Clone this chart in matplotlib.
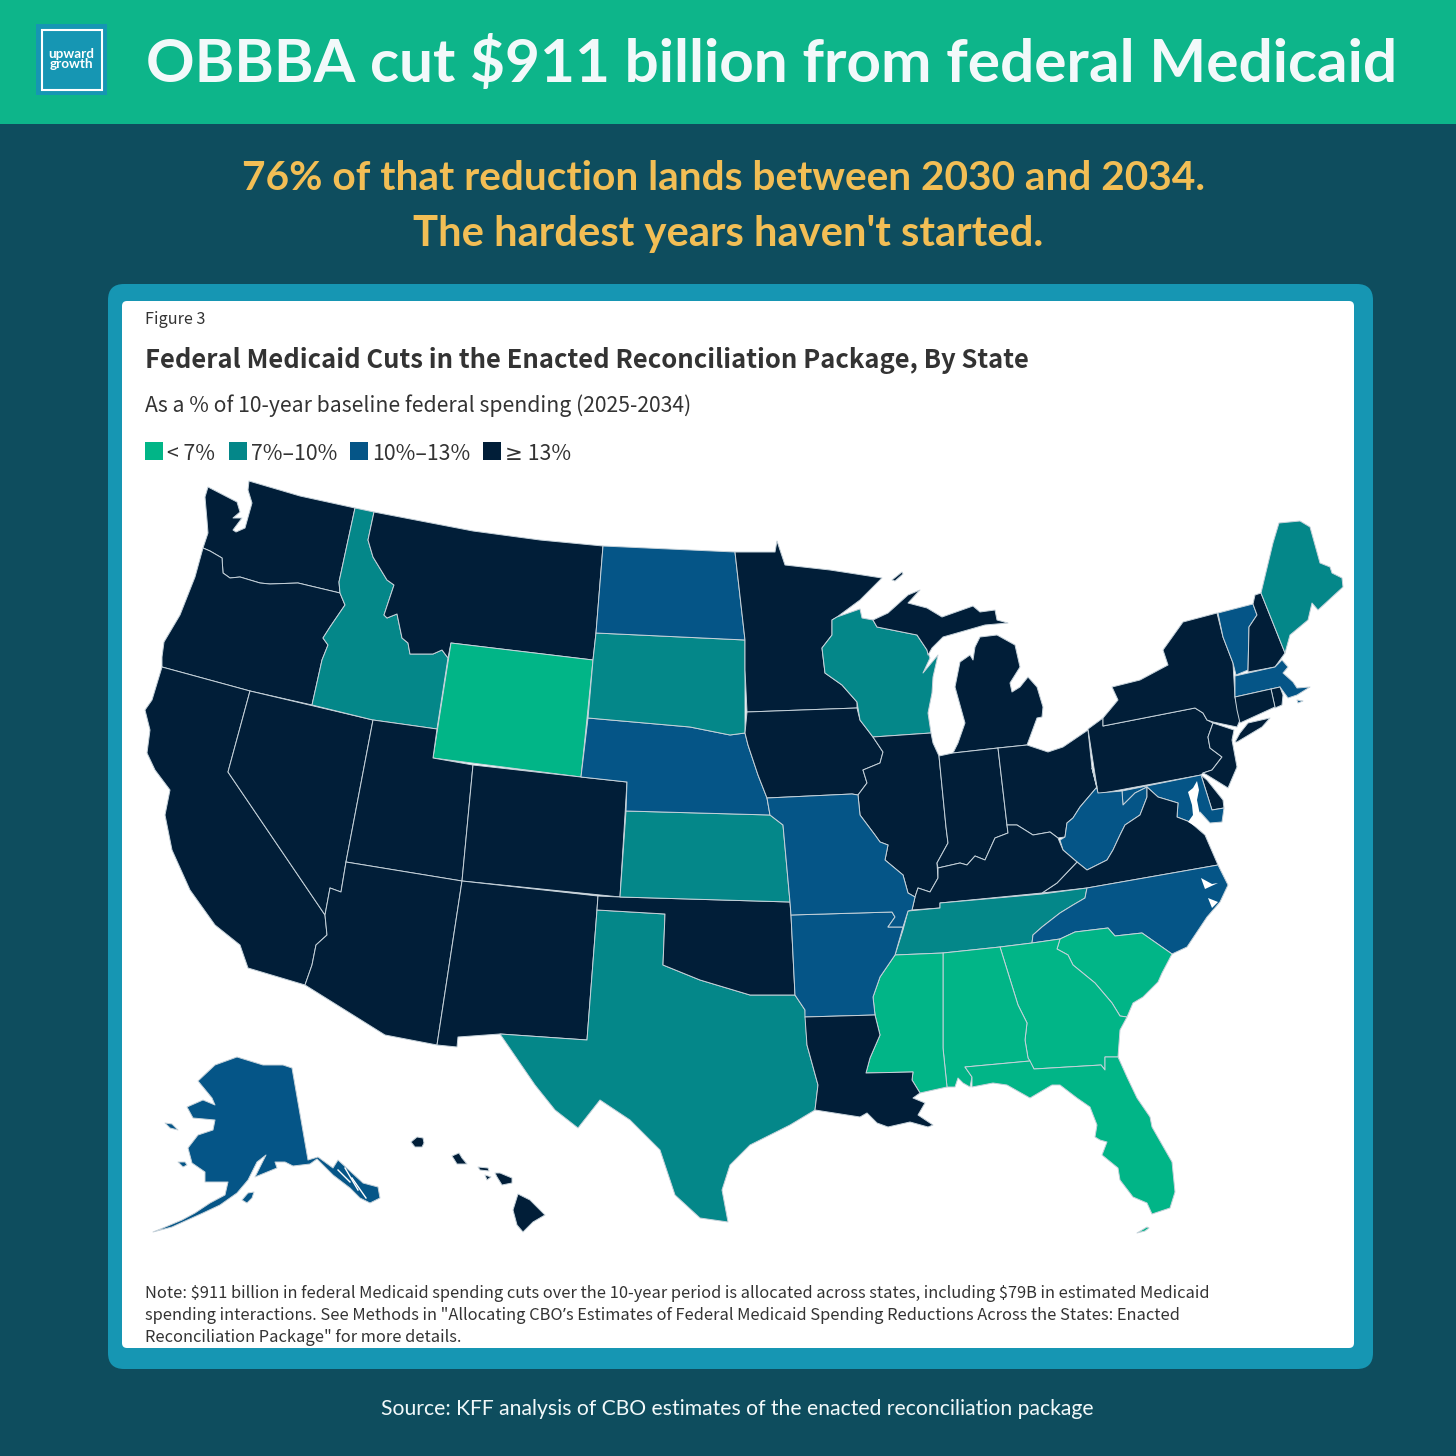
import matplotlib
matplotlib.use("Agg")
import matplotlib.pyplot as plt
from matplotlib.patches import FancyBboxPatch, Polygon, Rectangle

# Legend
BIN_LABELS = ["< 7%", "7%–10%", "10%–13%", "≥ 13%"]
BIN_COLORS = ["#01B587", "#048789", "#055587", "#011E38"]

# State bin, index into BIN_LABELS
LOW = ["WY", "MS", "AL", "GA", "SC", "FL"]
MID = ["ID", "SD", "KS", "TX", "WI", "TN", "ME"]
HIGH = ["ND", "NE", "MO", "AR", "WV", "MD", "NC", "VT", "MA", "AK"]
TOP = ["WA", "OR", "CA", "NV", "MT", "UT", "CO", "AZ", "NM", "OK", "MN", "IA", "IL", "IN", "MI",
       "OH", "KY", "VA", "PA", "NY", "NJ", "DE", "CT", "RI", "NH", "LA", "HI"]

# State outlines
WA = [(249,481),(300,496),(355,508),(339,582),(340,593),(298,583),(270,584),(260,583),(240,577),(230,578),(223,573),(222,558),(210,551),(203,548),(208,533),(207,520),(205,497),(208,487),(237,502),(240,512),(233,518),(242,518),(233,530),(236,532),(245,528),(252,503),(248,490)]
OR = [(203,548),(210,551),(222,558),(223,573),(230,578),(240,577),(260,583),(270,584),(298,583),(340,593),(345,605),(330,627),(323,638),(328,645),(322,660),(312,705),(250,691),(162,667),(162,657),(164,642),(180,615),(195,577)]
CA = [(162,667),(250,691),(228,772),(325,915),(327,935),(316,945),(312,965),(305,985),(248,968),(240,945),(215,925),(190,890),(172,850),(165,815),(170,790),(155,770),(147,753),(150,730),(145,710),(152,700)]
NV = [(250,691),(373,720),(346,862),(341,892),(330,888),(325,915),(228,772)]
ID = [(355,508),(374,512),(368,540),(373,557),(387,580),(394,585),(388,603),(384,615),(387,618),(397,614),(402,638),(408,643),(410,654),(433,654),(442,650),(448,658),(437,729),(373,720),(312,705),(322,660),(328,645),(323,638),(330,627),(345,605),(340,593),(339,582)]
MT = [(374,512),(473,531),(540,540),(603,546),(596,633),(593,660),(451,643),(448,658),(442,650),(433,654),(410,654),(408,643),(402,638),(397,614),(387,618),(384,615),(388,603),(394,585),(387,580),(373,557),(368,540)]
WY = [(451,643),(593,660),(581,777),(433,758)]
UT = [(373,720),(437,729),(433,758),(473,765),(462,881),(346,862)]
CO = [(473,765),(581,777),(627,782),(620,897),(462,881)]
AZ = [(346,862),(462,881),(437,1045),(385,1035),(305,985),(312,965),(316,945),(327,935),(325,915),(330,888),(341,892)]
NM = [(462,881),(598,896),(597,910),(587,1040),(500,1034),(458,1037),(457,1047),(437,1045)]
TX = [(597,910),(665,914),(663,965),(700,980),(750,995),(795,995),(805,1010),(807,1045),(818,1085),(815,1110),(790,1125),(750,1145),(730,1165),(722,1190),(728,1222),(700,1218),(675,1195),(660,1150),(630,1120),(600,1100),(578,1128),(555,1110),(535,1085),(500,1034),(587,1040)]
OK = [(598,896),(620,897),(790,902),(791,915),(795,995),(750,995),(700,980),(663,965),(665,914),(597,910)]
KS = [(626,811),(770,815),(783,825),(790,902),(620,897)]
NE = [(588,718),(690,727),(730,735),(745,733),(748,745),(758,775),(767,798),(770,815),(626,811),(627,782),(581,777)]
SD = [(596,633),(745,640),(745,670),(745,733),(730,735),(690,727),(588,718),(593,660)]
ND = [(603,546),(735,552),(745,640),(596,633)]
MN = [(735,552),(775,552),(777,541),(785,565),(830,570),(882,578),(860,600),(837,617),(832,620),(832,635),(822,648),(825,673),(842,685),(857,702),(857,708),(747,712),(745,670),(745,640)]
IA = [(747,712),(857,708),(860,720),(873,737),(883,752),(880,763),(863,770),(867,783),(858,795),(852,794),(767,798),(758,775),(748,745),(745,733)]
WI = [(837,617),(860,609),(862,618),(873,620),(877,627),(917,635),(927,650),(930,658),(923,673),(938,655),(933,677),(932,693),(928,713),(931,733),(873,737),(860,720),(857,702),(842,685),(825,673),(822,648),(832,635),(832,620)]
MI_UP = [(873,620),(888,613),(908,595),(920,590),(908,603),(927,608),(942,617),(973,606),(980,612),(995,610),(997,620),(1008,623),(985,625),(943,637),(932,648),(928,655),(927,650),(917,635),(877,627)]
MI_LP = [(980,637),(997,635),(1015,645),(1020,667),(1010,683),(1012,692),(1020,687),(1028,677),(1037,687),(1043,707),(1042,717),(1037,718),(1030,737),(1027,745),(998,748),(953,753),(958,743),(965,723),(955,687),(960,662),(970,655),(973,660),(975,647)]
MI_ISLE = [(892,580),(902,572),(903,574),(895,581)]
IL = [(873,737),(931,733),(933,743),(939,756),(946,827),(948,843),(937,863),(938,878),(930,892),(918,888),(915,897),(908,893),(903,875),(885,860),(888,845),(880,842),(875,835),(860,815),(858,795),(867,783),(863,770),(880,763),(883,752)]
IN = [(939,756),(953,753),(998,748),(1007,825),(1008,833),(995,838),(985,860),(975,856),(967,865),(960,863),(938,868),(937,863),(948,843),(946,827)]
OH = [(998,748),(1027,745),(1048,752),(1063,747),(1088,730),(1092,768),(1097,787),(1080,807),(1073,818),(1067,823),(1065,837),(1058,838),(1050,832),(1033,835),(1017,825),(1007,825)]
PA = [(1088,729),(1103,718),(1103,726),(1195,708),(1203,713),(1207,720),(1213,723),(1208,737),(1210,748),(1222,757),(1212,770),(1203,773),(1201,775),(1098,794)]
NY = [(1103,718),(1118,700),(1112,687),(1140,680),(1168,665),(1163,650),(1183,622),(1217,613),(1223,637),(1233,663),(1235,697),(1240,720),(1237,727),(1213,722),(1207,720),(1203,713),(1195,708),(1103,726)]
NY_LI = [(1235,742),(1240,733),(1248,723),(1270,718),(1262,727),(1237,742)]
VT = [(1218,613),(1253,604),(1257,615),(1249,627),(1248,670),(1236,675),(1233,663),(1223,637)]
NH = [(1255,595),(1261,593),(1285,653),(1275,667),(1248,672),(1249,627),(1257,615),(1253,604)]
ME = [(1261,593),(1273,543),(1279,523),(1300,521),(1310,527),(1320,563),(1330,567),(1332,573),(1342,578),(1343,587),(1318,610),(1312,603),(1308,620),(1290,635),(1285,653)]
MA = [(1235,676),(1275,667),(1282,660),(1288,667),(1283,673),(1293,682),(1297,688),(1310,687),(1297,695),(1288,698),(1280,687),(1235,697)]
MA_ISLE = [(1297,700),(1303,701),(1298,703)]
RI = [(1271,689),(1280,687),(1283,695),(1282,705),(1275,708)]
CT = [(1235,697),(1271,689),(1275,707),(1240,723),(1237,710)]
NJ = [(1213,723),(1234,730),(1232,740),(1237,767),(1228,788),(1220,783),(1207,775),(1203,773),(1212,770),(1222,757),(1210,748),(1208,737)]
DE = [(1201,775),(1207,780),(1223,800),(1224,808),(1212,810)]
MD = [(1122,791),(1201,775),(1212,810),(1224,808),(1222,822),(1210,823),(1200,812),(1190,822),(1177,817),(1178,803),(1158,797),(1147,787),(1135,793),(1123,805)]
WV = [(1092,768),(1098,793),(1122,791),(1123,805),(1135,793),(1147,787),(1147,797),(1140,815),(1125,825),(1120,835),(1113,850),(1107,860),(1087,870),(1077,862),(1063,850),(1060,840),(1065,837),(1067,823),(1073,818),(1080,807),(1097,787)]
VA = [(1042,893),(1057,883),(1077,862),(1087,870),(1107,860),(1113,850),(1120,835),(1125,825),(1140,815),(1147,797),(1147,787),(1158,797),(1178,803),(1177,817),(1190,822),(1205,835),(1218,865),(1087,888)]
KY = [(1042,893),(940,903),(940,908),(912,910),(915,897),(918,888),(930,892),(938,878),(938,868),(960,863),(967,865),(975,856),(985,860),(995,838),(1008,833),(1007,825),(1017,825),(1033,835),(1050,832),(1058,838),(1063,850),(1077,862),(1057,883)]
TN = [(908,911),(940,908),(940,903),(1042,894),(1087,888),(1085,898),(1073,905),(1060,913),(1042,927),(1033,935),(1032,943),(1000,947),(943,953),(895,955),(903,930)]
NC = [(1087,888),(1218,865),(1228,885),(1220,902),(1207,917),(1187,947),(1172,954),(1142,933),(1115,936),(1108,928),(1075,932),(1060,939),(1032,943),(1033,935),(1042,927),(1060,913),(1073,905),(1085,898)]
SC = [(1075,932),(1108,928),(1115,936),(1142,933),(1172,954),(1162,973),(1158,982),(1143,997),(1133,1003),(1127,1017),(1120,1016),(1112,1003),(1095,983),(1073,965),(1068,955),(1057,949),(1060,939)]
GA = [(1000,947),(1032,943),(1060,939),(1057,949),(1068,955),(1073,965),(1095,983),(1112,1003),(1120,1016),(1127,1017),(1120,1030),(1118,1057),(1105,1057),(1105,1070),(1101,1065),(1034,1069),(1028,1058),(1025,1040),(1027,1023),(1018,1005)]
AL = [(943,953),(1000,947),(1018,1005),(1027,1023),(1025,1040),(1028,1058),(1030,1061),(965,1067),(972,1077),(970,1087),(963,1083),(958,1078),(955,1087),(947,1087),(943,1048)]
MS = [(895,955),(943,953),(943,1048),(947,1087),(920,1093),(912,1080),(913,1072),(866,1073),(870,1058),(880,1035),(875,1015),(873,997),(880,977)]
AR = [(791,915),(892,912),(895,917),(888,927),(903,927),(895,955),(880,977),(873,997),(875,1015),(805,1017),(805,1010),(795,995)]
MO = [(767,798),(852,794),(858,795),(860,815),(875,835),(880,842),(888,845),(885,860),(903,875),(908,893),(915,897),(912,910),(908,911),(903,927),(888,927),(895,917),(892,912),(791,915),(790,902),(783,825),(770,815)]
LA = [(805,1017),(875,1015),(880,1035),(870,1058),(866,1073),(913,1072),(912,1080),(920,1093),(913,1098),(925,1103),(918,1115),(933,1125),(928,1127),(910,1122),(888,1127),(877,1123),(867,1113),(860,1117),(815,1110),(818,1085),(807,1045)]
FL = [(965,1067),(1030,1061),(1034,1069),(1101,1065),(1105,1070),(1105,1057),(1118,1057),(1127,1077),(1137,1098),(1150,1117),(1152,1127),(1172,1162),(1175,1192),(1170,1208),(1152,1214),(1147,1203),(1133,1197),(1120,1180),(1118,1168),(1102,1155),(1107,1142),(1100,1140),(1095,1137),(1097,1125),(1090,1107),(1077,1098),(1060,1085),(1052,1085),(1030,1098),(1007,1085),(993,1083),(972,1087),(972,1077)]
FL_KEYS = [(1137,1233),(1147,1227),(1149,1228),(1145,1231)]
AK = [(292,1068),(283,1065),(263,1065),(237,1057),(215,1065),(198,1081),(212,1098),(215,1105),(203,1100),(187,1107),(193,1118),(215,1120),(213,1130),(198,1135),(188,1148),(192,1163),(205,1172),(205,1182),(228,1182),(225,1195),(210,1203),(195,1213),(182,1220),(163,1228),(153,1232),(172,1227),(183,1222),(203,1213),(220,1205),(237,1193),(248,1180),(257,1162),(266,1155),(255,1177),(277,1168),(275,1162),(285,1162),(293,1166),(310,1164),(317,1159),(333,1175),(350,1188),(360,1198),(370,1203),(380,1198),(378,1187),(363,1183),(338,1160),(333,1168),(318,1157),(308,1160)]
AK_KODIAK = [(242,1200),(248,1193),(254,1192),(252,1198),(247,1203)]
AK_LAWRENCE = [(165,1123),(172,1124),(178,1130),(170,1128)]
AK_NUNIVAK = [(178,1162),(185,1162),(187,1165),(183,1167)]
HI_KAUAI = [(411,1142),(417,1137),(423,1138),(424,1143),(422,1147),(415,1147)]
HI_OAHU = [(452,1156),(459,1153),(462,1158),(467,1164),(457,1164)]
HI_MOLOKAI = [(478,1167),(488,1168),(489,1171),(480,1170)]
HI_LANAI = [(485,1175),(491,1177),(487,1180)]
HI_MAUI = [(495,1173),(500,1173),(512,1178),(512,1183),(502,1185),(497,1177)]
HI_BIG = [(518,1194),(530,1200),(545,1215),(533,1222),(523,1232),(517,1225),(513,1210)]

STATE_PARTS = {
    "WA": [WA], "OR": [OR], "CA": [CA], "NV": [NV], "ID": [ID], "MT": [MT], "WY": [WY], "UT": [UT],
    "CO": [CO], "AZ": [AZ], "NM": [NM], "TX": [TX], "OK": [OK], "KS": [KS], "NE": [NE], "SD": [SD],
    "ND": [ND], "MN": [MN], "IA": [IA], "WI": [WI], "MI": [MI_UP, MI_LP, MI_ISLE], "IL": [IL],
    "IN": [IN], "OH": [OH], "PA": [PA], "NY": [NY, NY_LI], "VT": [VT], "NH": [NH], "ME": [ME],
    "MA": [MA, MA_ISLE], "RI": [RI], "CT": [CT], "NJ": [NJ], "DE": [DE], "MD": [MD], "WV": [WV],
    "VA": [VA], "KY": [KY], "TN": [TN], "NC": [NC], "SC": [SC], "GA": [GA], "AL": [AL], "MS": [MS],
    "AR": [AR], "MO": [MO], "LA": [LA], "FL": [FL, FL_KEYS],
    "AK": [AK, AK_KODIAK, AK_LAWRENCE, AK_NUNIVAK],
    "HI": [HI_KAUAI, HI_OAHU, HI_MOLOKAI, HI_LANAI, HI_MAUI, HI_BIG],
}

# Bays and sounds that cut into the land
WATER = [
    [(1197,781),(1193,788),(1188,792),(1192,805),(1193,815),(1188,822),(1205,832),(1218,832),(1205,825),(1200,815),(1197,800),(1199,790)],
    [(1201,878),(1212,884),(1218,883),(1205,889)],
    [(1208,898),(1218,902),(1212,908)],
    [(238,489),(246,488),(247,492),(240,493)],
]
AK_CHANNELS = [
    [(338,1170),(350,1182)],
    [(345,1168),(358,1190)],
    [(352,1178),(366,1198)],
]

HEADER_TITLE = "OBBBA cut $911 billion from federal Medicaid"
SUBTITLE = ["76% of that reduction lands between 2030 and 2034.", "The hardest years haven't started."]
FIGURE_NO = "Figure 3"
CHART_TITLE = "Federal Medicaid Cuts in the Enacted Reconciliation Package, By State"
CHART_SUB = "As a % of 10-year baseline federal spending (2025-2034)"
NOTE = [
    "Note: $911 billion in federal Medicaid spending cuts over the 10-year period is allocated across states, including $79B in estimated Medicaid",
    "spending interactions. See Methods in \"Allocating CBO’s Estimates of Federal Medicaid Spending Reductions Across the States: Enacted",
    "Reconciliation Package\" for more details.",
]
SOURCE = "Source: KFF analysis of CBO estimates of the enacted reconciliation package"

HEAD_FONT = "Lato"
BODY_FONT = ["Noto Sans CJK SC", "DejaVu Sans"]
SIGN_FONT = ["Noto Sans", "DejaVu Sans"]  # CJK fonts draw ’ and ≥ too wide


def px(size):
    return size * 0.72


fig = plt.figure(figsize=(14.56, 14.56), dpi=100, facecolor="#0E4D5E")
ax = fig.add_axes([0, 0, 1, 1])
ax.set_xlim(0, 1456)
ax.set_ylim(1456, 0)
ax.axis("off")
renderer = fig.canvas.get_renderer()


def body_text(x, y, s, size):
    # split on the signs the CJK font gets wrong and set them one after another
    run = ""
    runs = []
    for ch in s:
        if ch in "’≥":
            if run:
                runs.append((run, BODY_FONT))
            runs.append((ch, SIGN_FONT))
            run = ""
        else:
            run += ch
    if run:
        runs.append((run, BODY_FONT))
    for part, family in runs:
        t = ax.text(x, y, part, color="#333333", family=family, fontsize=px(size), va="center_baseline",
                    parse_math=False)
        x = ax.transData.inverted().transform(t.get_window_extent(renderer).corners()[2])[0]
    return x


# Header band and logo
ax.add_patch(Rectangle((0, 0), 1456, 124, fc="#0DB58A", ec="none"))
ax.add_patch(Rectangle((36, 24), 71, 71, fc="#1696B3", ec="none"))
ax.add_patch(Rectangle((41.5, 29.5), 60, 60, fc="none", ec="white", lw=1.5))
ax.text(71.5, 59, "upward\ngrowth", color="white", family=HEAD_FONT, weight="bold", fontsize=px(13.5),
        ha="center", va="center", linespacing=0.8)
ax.text(772, 64, HEADER_TITLE, color="#F2F9FA", family=HEAD_FONT, weight="bold", fontsize=px(60.2),
        ha="center", va="center", parse_math=False)

ax.text(724, 178, SUBTITLE[0], color="#F2BE55", family=HEAD_FONT, weight="bold", fontsize=px(40.6),
        ha="center", va="center")
ax.text(728, 234, SUBTITLE[1], color="#F2BE55", family=HEAD_FONT, weight="bold", fontsize=px(41.8),
        ha="center", va="center")

# Card
ax.add_patch(FancyBboxPatch((124, 300), 1233, 1053, boxstyle="round,pad=16,rounding_size=16",
                            fc="#1696B3", ec="none"))
ax.add_patch(FancyBboxPatch((127, 306), 1222, 1037, boxstyle="round,pad=5,rounding_size=5",
                            fc="white", ec="none"))

body_text(145, 317, FIGURE_NO, 16.2)
ax.text(145, 360, CHART_TITLE, color="#333333", family=BODY_FONT, weight="bold", fontsize=px(25.6), va="center")
body_text(145, 403, CHART_SUB, 21.2)

# Legend
swatch_x = [145, 229, 350, 483]
for x, label, color in zip(swatch_x, BIN_LABELS, BIN_COLORS):
    ax.add_patch(Rectangle((x, 442), 18, 18, fc=color, ec="none"))
    body_text(x + 22, 452, label, 21.3)

# Map
bin_of = {}
for i, group in enumerate([LOW, MID, HIGH, TOP]):
    for st in group:
        bin_of[st] = i

for st, parts in STATE_PARTS.items():
    for part in parts:
        ax.add_patch(Polygon(part, closed=True, fc=BIN_COLORS[bin_of[st]], ec="#C6D2DA", lw=0.7, joinstyle="round"))
for part in WATER:
    ax.add_patch(Polygon(part, closed=True, fc="white", ec="none"))
for part in AK_CHANNELS:
    ax.plot(*zip(*part), color="white", lw=1.0)

for i, line in enumerate(NOTE):
    body_text(145, 1292 + i * 22, line, 16.42)

ax.text(737, 1409, SOURCE, color="#F2F9FA", family=HEAD_FONT, fontsize=px(21.2), ha="center", va="center")

fig.savefig("out.png", dpi=100, facecolor=fig.get_facecolor())
